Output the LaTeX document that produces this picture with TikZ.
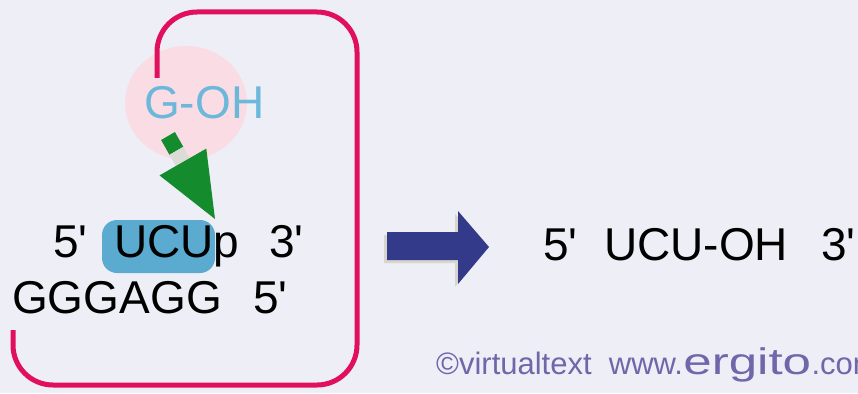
\documentclass[tikz,border=0pt]{standalone}
\usepackage{fontspec}
\setmainfont{Liberation Sans}
\newcommand\pr{\textquotesingle}
\definecolor{bgc}{HTML}{EEEEF6}
\definecolor{loopc}{HTML}{E0105E}
\definecolor{pinkc}{HTML}{F9DCE4}
\definecolor{gohc}{HTML}{6CB8DA}
\definecolor{hlc}{HTML}{5BAAD0}
\definecolor{grn}{HTML}{148C2E}
\definecolor{gry}{HTML}{DCDCD6}
\definecolor{navy}{HTML}{343A8A}
\definecolor{shad}{HTML}{D6D6CE}
\definecolor{wmc}{HTML}{7066AA}
\tikzset{
  seq/.style={inner sep=0pt, anchor=base west, font=\fontsize{46}{50}\selectfont},
  wm/.style={inner sep=0pt, anchor=base west, text=wmc, font=\fontsize{31}{34}\selectfont},
}
\begin{document}
\begin{tikzpicture}[x=1pt,y=-1pt]
\fill[bgc] (0,0) rectangle (858,393);
\useasboundingbox (0,0) rectangle (858,393);
\clip (0,0) rectangle (858,393);
% pink circle
\fill[pinkc] (186,103) ellipse [x radius=61, y radius=57];
% magenta loop
\draw[loopc, line width=5pt, rounded corners=40pt] (13,330) -- (13,385) -- (357,385) -- (357,12) -- (157,12) -- (157,78);
% G-OH
\node[seq, text=gohc] (goh) at (144,118) {G-OH};
% green arrow
\fill[grn] (161.1,140.0) -- (174.9,132.0) -- (183.3,146.8) -- (169.5,154.8) -- cycle;
\fill[gry] (169.5,154.8) -- (183.3,146.8) -- (190.8,159.8) -- (177.0,167.8) -- cycle;
\fill[grn] (159.5,175.4) -- (206.3,148.6) -- (215,219) -- cycle;
% highlight
\fill[hlc, rounded corners=15pt] (102,220) rectangle (215,273);
% sequences
\node[seq] (a5) at (53,257) {5\pr};
\node[seq] (ucu) at (114,257) {UCUp};
\node[seq] (a3) at (269,257) {3\pr};
\node[seq] (gg) at (12,313) {GGGAGG};
\node[seq] (b5) at (253,313) {5\pr};
% big arrow
\fill[shad] (384,235) -- (455,235) -- (455,214) -- (486,250) -- (455,287) -- (455,263) -- (384,263) -- cycle;
\fill[navy] (387,232) -- (458,232) -- (458,211) -- (489,247) -- (458,284) -- (458,260) -- (387,260) -- cycle;
% product
\node[seq] (c5) at (543,260) {5\pr};
\node[seq] (ucuoh) at (604,260) {UCU-OH};
\node[seq] (c3) at (821,260) {3\pr};
% watermark
\node[wm] (w1) at (436,374) {\textcopyright virtualtext\ \ www.};
\node[wm, font=\fontsize{37}{40}\selectfont] (w2) at (w1.base east) {\scalebox{1.38}[1]{ergito}};
\node[wm] (w3) at (w2.base east) {.com};
\end{tikzpicture}
\end{document}
